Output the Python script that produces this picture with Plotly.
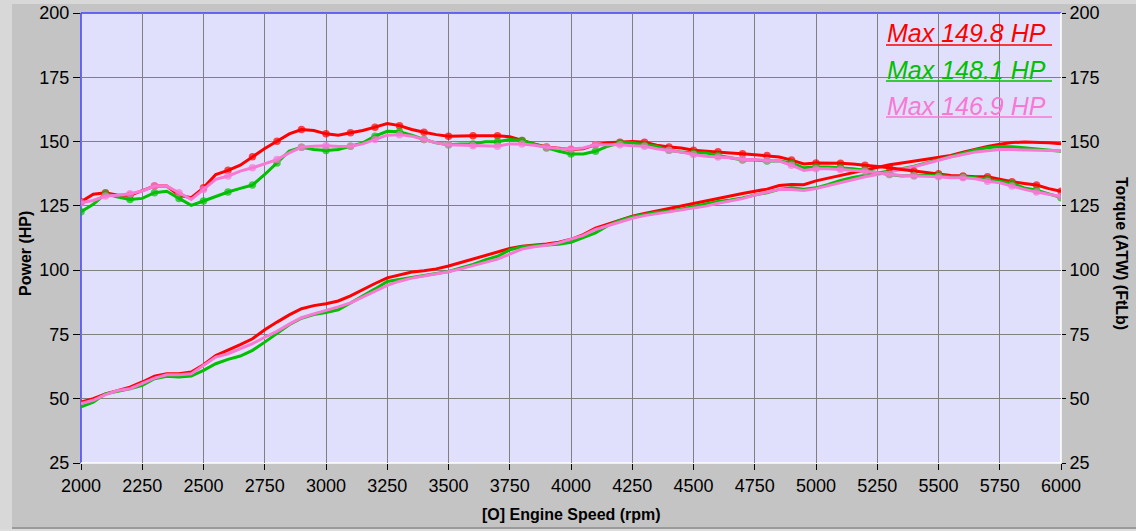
import plotly.graph_objects as go

rpm = list(range(2000, 6001, 50))

tq_red = [126.6, 129.5, 130.1, 129.1, 129.1, 131.0, 132.7, 132.7, 129.1, 128.2,
          132.0, 137.2, 138.8, 140.8, 144.1, 147.3, 150.1, 153.0, 154.7, 154.3,
          153.0, 152.5, 153.4, 154.3, 155.6, 157.0, 156.2, 154.7, 153.6, 152.7,
          152.1, 152.3, 152.3, 152.3, 152.3, 151.9, 150.4, 149.1, 147.9, 147.3,
          146.9, 147.2, 148.8, 149.5, 149.7, 150.0, 149.7, 148.6, 147.9, 147.5,
          146.6, 146.2, 146.0, 145.6, 145.3, 144.9, 144.6, 144.0, 142.8, 141.3,
          141.7, 141.7, 141.6, 141.3, 140.8, 140.4, 139.8, 139.1, 138.5, 138.1,
          137.5, 136.8, 136.6, 136.3, 136.3, 135.3, 134.4, 133.7, 133.1, 131.7,
          130.7]
hp_red = [48.7, 50.0, 51.9, 53.2, 54.5, 56.5, 58.8, 59.7, 59.7, 60.4,
          63.2, 66.8, 68.8, 71.0, 73.3, 76.8, 79.8, 82.6, 85.0, 86.2,
          86.9, 88.0, 90.0, 92.5, 94.8, 97.0, 98.2, 99.3, 99.8, 100.5,
          101.6, 103.0, 104.4, 105.8, 107.3, 108.4, 109.3, 109.7, 110.2, 110.9,
          112.0, 113.8, 116.3, 117.9, 119.3, 121.0, 122.0, 123.0, 123.8, 124.9,
          126.0, 127.0, 128.0, 128.8, 129.8, 130.7, 131.5, 132.9, 133.3, 133.2,
          134.7, 135.8, 136.8, 137.7, 138.9, 140.0, 141.0, 141.7, 142.4, 143.0,
          143.8, 144.6, 145.9, 147.1, 148.1, 149.0, 149.6, 149.8, 149.7, 149.5,
          149.2]
tq_green = [122.7, 125.6, 129.7, 128.4, 127.5, 127.9, 130.1, 130.7, 127.9, 125.2,
            126.9, 128.8, 130.4, 131.8, 133.1, 137.2, 141.7, 146.3, 147.8, 146.9,
            146.5, 146.9, 148.2, 149.5, 152.1, 154.0, 153.8, 152.5, 150.8, 149.5,
            148.8, 149.1, 149.1, 149.9, 149.9, 150.8, 150.4, 149.1, 147.5, 146.2,
            145.2, 145.2, 146.2, 148.2, 149.5, 149.5, 148.8, 148.2, 146.6, 145.9,
            145.6, 145.6, 144.6, 143.7, 142.8, 142.8, 142.4, 142.4, 141.7, 139.8,
            140.1, 140.1, 139.8, 139.4, 138.9, 137.9, 137.2, 136.6, 136.8, 136.8,
            136.8, 136.3, 136.3, 135.9, 135.3, 134.6, 133.7, 132.0, 131.1, 129.5,
            128.2]
hp_green = [46.8, 48.7, 51.9, 52.8, 53.9, 55.2, 57.8, 58.7, 58.4, 58.8,
            61.0, 63.6, 65.3, 66.6, 68.8, 72.0, 75.3, 78.8, 81.3, 82.7,
            83.5, 84.6, 87.2, 89.8, 92.7, 95.6, 96.4, 97.2, 97.8, 98.6,
            99.5, 100.9, 102.2, 104.0, 105.4, 107.9, 109.1, 109.5, 109.8, 110.1,
            110.8, 112.5, 114.5, 117.3, 119.3, 120.8, 121.6, 122.5, 122.9, 123.7,
            124.8, 125.8, 126.7, 127.3, 128.1, 129.2, 130.1, 131.4, 132.0, 131.5,
            132.0, 133.3, 134.9, 136.0, 136.8, 137.5, 138.5, 139.4, 140.4, 141.7,
            143.0, 144.1, 145.5, 146.7, 147.6, 148.1, 148.0, 147.5, 147.2, 146.6,
            146.2]
tq_pink = [126.2, 127.1, 128.8, 129.1, 129.7, 130.8, 132.7, 132.7, 130.1, 127.5,
           131.4, 135.3, 136.6, 138.5, 139.8, 141.3, 143.0, 145.6, 147.8, 148.2,
           148.4, 148.1, 148.2, 149.1, 150.8, 152.5, 152.7, 152.1, 150.8, 149.5,
           148.8, 148.6, 148.4, 148.2, 148.2, 149.1, 149.1, 148.6, 147.8, 147.3,
           147.1, 147.5, 148.8, 148.8, 148.8, 148.4, 148.2, 147.2, 146.6, 145.9,
           145.0, 144.3, 144.0, 143.7, 143.0, 143.0, 142.6, 142.4, 140.8, 138.8,
           139.4, 139.4, 139.1, 138.9, 138.5, 137.9, 137.2, 136.8, 136.6, 136.6,
           136.3, 135.9, 135.9, 135.5, 134.6, 134.0, 132.7, 131.4, 130.4, 129.5,
           128.6]
hp_pink = [48.1, 49.4, 51.6, 53.2, 53.9, 55.8, 58.0, 59.3, 59.3, 59.7,
           62.9, 66.2, 67.5, 69.4, 71.4, 73.9, 76.2, 79.0, 81.5, 83.0,
           84.3, 85.7, 87.3, 89.6, 92.0, 94.1, 95.7, 96.9, 97.7, 98.5,
           99.4, 100.5, 101.7, 103.0, 104.3, 106.2, 108.2, 109.1, 109.7, 110.6,
           111.9, 113.5, 115.8, 117.3, 118.9, 120.2, 121.2, 121.9, 122.6, 123.4,
           124.1, 124.9, 126.0, 127.0, 127.8, 129.2, 130.2, 131.4, 131.4, 131.0,
           131.7, 132.9, 134.0, 135.3, 136.3, 137.2, 138.2, 139.1, 140.2, 141.5,
           142.8, 144.0, 145.0, 145.9, 146.4, 146.9, 146.9, 146.8, 146.7, 146.6,
           146.4]

labels = ["Max 149.8 HP", "Max 148.1 HP", "Max 146.9 HP"]
colors = ["#ff0000", "#00c000", "#f878d4"]
x_ticks = [2000, 2250, 2500, 2750, 3000, 3250, 3500, 3750, 4000, 4250, 4500,
           4750, 5000, 5250, 5500, 5750, 6000]
y_ticks = [25, 50, 75, 100, 125, 150, 175, 200]

for arr in (tq_red, hp_red, tq_green, hp_green, tq_pink, hp_pink):
    assert len(arr) == len(rpm), len(arr)

FONT = "Liberation Sans, Arial, sans-serif"
msize = [7.5 if i % 2 == 0 else 0 for i in range(len(rpm))]

fig = go.Figure()
series = [(hp_red, tq_red), (hp_green, tq_green), (hp_pink, tq_pink)]
for (hp, tq), col, lab in zip(series, colors, labels):
    fig.add_trace(go.Scatter(x=rpm, y=hp, mode="lines", yaxis="y",
                             line=dict(color=col, width=3), name=lab,
                             hoverinfo="skip"))
for (hp, tq), col, lab in zip(series, colors, labels):
    fig.add_trace(go.Scatter(x=rpm, y=tq, mode="lines+markers", yaxis="y2",
                             line=dict(color=col, width=3),
                             marker=dict(color=col, size=msize, line=dict(width=0)),
                             name=lab, hoverinfo="skip"))

axis_font = dict(family=FONT, size=18, color="#000000")
fig.update_layout(
    width=1136, height=531,
    margin=dict(l=81, r=75, t=13, b=68, autoexpand=False),
    paper_bgcolor="#c4c4c4",
    plot_bgcolor="#e0e0fc",
    showlegend=False,
    hovermode=False,
    xaxis=dict(range=[2000, 6000], tickvals=x_ticks, ticktext=[str(v) for v in x_ticks],
               showgrid=True, gridcolor="#808080", gridwidth=1, zeroline=False,
               ticks="outside", ticklen=6, tickcolor="#000000", tickfont=axis_font,
               showline=False, automargin=False),
    yaxis=dict(range=[25, 200], tickvals=y_ticks, ticktext=[str(v) for v in y_ticks],
               showgrid=True, gridcolor="#808080", gridwidth=1, zeroline=False,
               ticks="outside", ticklen=7, tickcolor="#000000", tickfont=axis_font,
               showline=False, automargin=False),
    yaxis2=dict(range=[25, 200], tickvals=y_ticks, ticktext=[str(v) for v in y_ticks],
                overlaying="y", side="right", showgrid=False, zeroline=False,
                ticks="outside", ticklen=4, tickcolor="#000000", tickfont=axis_font,
                showline=False, automargin=False),
)

def px_x(p):
    return (p - 81) / 980.0

def px_y(p):
    return (463 - p) / 450.0

shapes = [
    dict(type="rect", xref="paper", yref="paper", x0=px_x(0), x1=px_x(12),
         y0=px_y(531), y1=px_y(0), fillcolor="#d8d8d8", line=dict(width=0), layer="below"),
    dict(type="rect", xref="paper", yref="paper", x0=px_x(0), x1=px_x(1136),
         y0=px_y(4), y1=px_y(0), fillcolor="#d8d8d8", line=dict(width=0), layer="below"),
    dict(type="rect", xref="paper", yref="paper", x0=px_x(12), x1=px_x(1136),
         y0=px_y(529), y1=px_y(527), fillcolor="#9a9a9a", line=dict(width=0), layer="below"),
    dict(type="rect", xref="paper", yref="paper", x0=px_x(0), x1=px_x(1136),
         y0=px_y(531), y1=px_y(529), fillcolor="#dcdcdc", line=dict(width=0), layer="below"),
    dict(type="line", xref="paper", yref="paper", x0=0, x1=1, y0=1, y1=1,
         line=dict(color="#4040ff", width=1.5), layer="between"),
    dict(type="line", xref="paper", yref="paper", x0=0, x1=0, y0=0, y1=1,
         line=dict(color="#4040ff", width=1.5), layer="between"),
    dict(type="line", xref="paper", yref="paper", x0=1, x1=1, y0=0, y1=1,
         line=dict(color="#ffffff", width=1.5), layer="between"),
    dict(type="line", xref="paper", yref="paper", x0=0, x1=1, y0=0, y1=0,
         line=dict(color="#ffffff", width=1.5), layer="between"),
]

annotations = []
text_y = [33, 70, 106]
line_y = [45, 81, 117]
for lab, col, ty, ly in zip(labels, colors, text_y, line_y):
    annotations.append(dict(xref="paper", yref="paper", x=px_x(885), y=px_y(ty),
                            xanchor="left", yanchor="middle", showarrow=False,
                            text="<i>" + lab + "</i>",
                            font=dict(family=FONT, size=25, color=col)))
    shapes.append(dict(type="line", xref="paper", yref="paper",
                       x0=px_x(886), x1=px_x(1052), y0=px_y(ly), y1=px_y(ly),
                       line=dict(color=col, width=1.5)))

annotations += [
    dict(xref="paper", yref="paper", x=px_x(25), y=px_y(254), textangle=-90,
         showarrow=False, xanchor="center", yanchor="middle",
         text="<b>Power (HP)</b>", font=dict(family=FONT, size=16, color="#000000")),
    dict(xref="paper", yref="paper", x=px_x(1122), y=px_y(253), textangle=90,
         showarrow=False, xanchor="center", yanchor="middle",
         text="<b>Torque (ATW) (FtLb)</b>", font=dict(family=FONT, size=16, color="#000000")),
    dict(xref="paper", yref="paper", x=px_x(571), y=px_y(514),
         showarrow=False, xanchor="center", yanchor="middle",
         text="<b>[O] Engine Speed (rpm)</b>", font=dict(family=FONT, size=16, color="#000000")),
]

fig.update_layout(shapes=shapes, annotations=annotations)
fig.write_html("out.html", config={"displayModeBar": False},
               post_script="document.body.style.margin='0';document.body.style.padding='0';document.body.style.overflow='hidden';")
